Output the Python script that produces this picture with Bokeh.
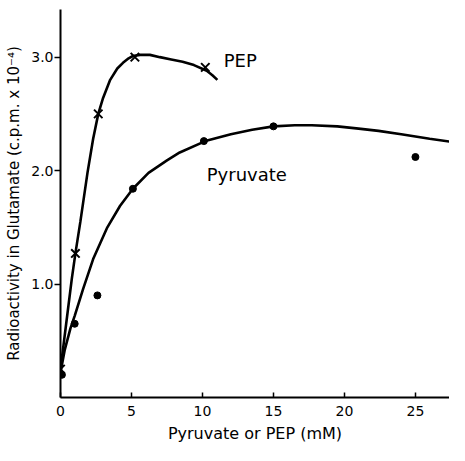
from bokeh.plotting import figure
from bokeh.models import Range1d, FixedTicker, ColumnDataSource
from bokeh.core.properties import value
from bokeh.embed import file_html
from bokeh.resources import INLINE

# Measured points (x = concentration in mM, y = c.p.m. x 10^-4)
pep_x = [0.0, 1.05, 2.66, 5.24, 10.2]
pep_y = [0.25, 1.27, 2.50, 3.00, 2.91]

pyr_x = [0.1, 1.0, 2.6, 5.1, 10.1, 15.0, 25.0]
pyr_y = [0.20, 0.65, 0.90, 1.84, 2.26, 2.39, 2.12]

# Hand-drawn smooth curves
pep_curve_x = [0.0, 0.4, 0.8, 1.05, 1.4, 1.9, 2.3, 2.66, 3.0, 3.5, 4.0, 4.4, 4.8, 5.1, 5.6, 6.3, 7.0, 7.8, 8.6, 9.4, 10.3, 10.7, 11.05]
pep_curve_y = [0.25, 0.65, 1.05, 1.27, 1.55, 1.98, 2.28, 2.50, 2.64, 2.80, 2.90, 2.95, 2.99, 3.01, 3.02, 3.02, 3.00, 2.98, 2.96, 2.93, 2.88, 2.84, 2.80]

pyr_curve_x = [0.0, 0.3, 0.7, 1.0, 1.6, 2.3, 3.3, 4.2, 5.1, 6.2, 7.5, 8.4, 10.2, 12.0, 13.5, 15.0, 16.5, 17.7, 19.5, 21.0, 22.4, 24.0, 26.0, 28.3]
pyr_curve_y = [0.22, 0.42, 0.61, 0.72, 0.96, 1.22, 1.50, 1.69, 1.84, 1.98, 2.09, 2.16, 2.26, 2.32, 2.36, 2.39, 2.40, 2.40, 2.39, 2.37, 2.35, 2.32, 2.28, 2.24]

x_ticks = [0, 5, 10, 15, 20, 25]
y_ticks = [1, 2, 3]
y_tick_labels = {1: "1.0", 2: "2.0", 3: "3.0"}

series_labels = [("PEP", 11.5, 2.97), ("Pyruvate", 10.3, 1.97)]

x_title = "Pyruvate or PEP (mM)"
y_title = "Radioactivity in Glutamate (c.p.m. x 10\u207b\u2074)"

FONT = "DejaVu Sans"

p = figure(width=449, height=445, output_backend="svg", toolbar_location=None,
           x_range=Range1d(0, 27.4), y_range=Range1d(0, 3.42),
           min_border_left=60, min_border_right=0, min_border_top=9, min_border_bottom=40)
p.outline_line_color = None
p.xgrid.visible = False
p.ygrid.visible = False
p.background_fill_color = "white"
p.border_fill_color = "white"

p.line(pep_curve_x, pep_curve_y, line_color="black", line_width=2.6)
p.line(pyr_curve_x, pyr_curve_y, line_color="black", line_width=2.6)
p.scatter(pep_x, pep_y, marker="x", size=12, line_color="black", line_width=2)
p.scatter(pyr_x, pyr_y, marker="circle", size=7, fill_color="black", line_color="black")

src = ColumnDataSource(dict(t=[s[0] for s in series_labels], x=[s[1] for s in series_labels], y=[s[2] for s in series_labels]))
p.text(x="x", y="y", text="t", source=src, text_font=value(FONT), text_font_size="18px",
       text_baseline="middle", text_align="left", text_color="black")

xa = p.xaxis[0]
xa.ticker = FixedTicker(ticks=x_ticks)
xa.major_tick_in = 5
xa.major_tick_out = 0
xa.minor_tick_line_color = None
xa.axis_line_width = 2
xa.major_tick_line_width = 1.5
xa.major_label_text_font = FONT
xa.major_label_text_font_size = "14px"
xa.major_label_standoff = 8
xa.major_label_text_color = "black"
xa.axis_label = x_title
xa.axis_label_text_font = FONT
xa.axis_label_text_font_style = "normal"
xa.axis_label_text_font_size = "16px"
xa.axis_label_standoff = 5
xa.axis_label_text_color = "black"

ya = p.yaxis[0]
ya.ticker = FixedTicker(ticks=y_ticks)
ya.major_label_overrides = y_tick_labels
ya.major_tick_in = 0
ya.major_tick_out = 6
ya.minor_tick_line_color = None
ya.axis_line_width = 2
ya.major_tick_line_width = 1.5
ya.major_label_text_font = FONT
ya.major_label_text_font_size = "14px"
ya.major_label_standoff = 1
ya.major_label_orientation = "horizontal"
ya.major_label_text_color = "black"
ya.axis_label = y_title
ya.axis_label_text_font = FONT
ya.axis_label_text_font_style = "normal"
ya.axis_label_text_font_size = "15px"
ya.axis_label_standoff = 5
ya.axis_label_text_color = "black"

open("out.html", "w").write(file_html(p, INLINE))
